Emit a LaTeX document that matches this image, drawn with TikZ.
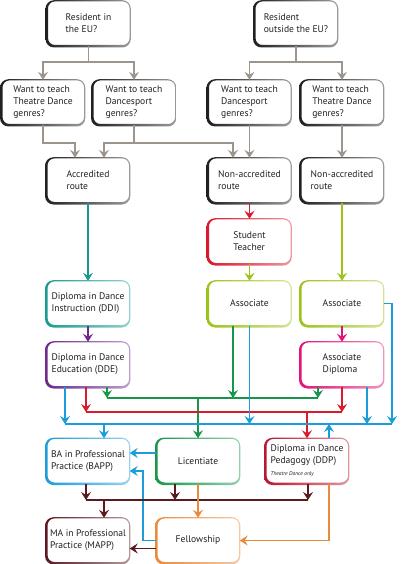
\documentclass[tikz,border=0pt]{standalone}
\usepackage{fontspec}
\setmainfont{PT Sans}
\usetikzlibrary{arrows.meta}
\definecolor{cgray}{HTML}{9C958E}
\definecolor{cblack}{HTML}{231F20}
\definecolor{cteal}{HTML}{169B8F}
\definecolor{cred}{HTML}{D71A2C}
\definecolor{cyg}{HTML}{9CC31C}
\definecolor{cpurple}{HTML}{6C2A8C}
\definecolor{cmag}{HTML}{E2127A}
\definecolor{ccyan}{HTML}{1B9DD9}
\definecolor{cgreen}{HTML}{17964A}
\definecolor{cdred}{HTML}{B8172F}
\definecolor{cmaroon}{HTML}{5B1A20}
\definecolor{corange}{HTML}{E98A3C}
\newcommand\ringbox[2]{%
  \shade[even odd rule, left color=#2, right color=#2!45, rounded corners=8.5pt]
    ([shift={(-1.3pt,-1.3pt)}]#1.south west) rectangle ([shift={(0.6pt,0.6pt)}]#1.north east)
    [rounded corners=7pt]
    ([shift={(1.2pt,1.2pt)}]#1.south west) rectangle ([shift={(-0.6pt,-0.6pt)}]#1.north east);}
\begin{document}
\begin{tikzpicture}[x=1pt,y=-1pt,
  box/.style={rounded corners=8pt, minimum width=83pt, minimum height=45pt, align=left, font=\fontsize{9.6}{12}\selectfont, inner sep=2pt, text=cblack},
  arr/.style={line width=1.2pt, -{Stealth[length=8pt,width=10pt,inset=3pt]}},
  ln/.style={line width=1.2pt}]
\useasboundingbox (0,0) rectangle (400,564);
\node[box] (r1) at (88.5,23.5) {Resident in\\the EU?};
\node[box] (r2) at (296,23.5) {Resident\\outside the EU?};
\node[box] (tE) at (43,102.5) {Want to teach\\Theatre Dance\\genres?};
\node[box] (dE) at (134,102.5) {Want to teach\\Dancesport\\genres?};
\node[box] (dN) at (249.5,102.5) {Want to teach\\Dancesport\\genres?};
\node[box] (tN) at (342,102.5) {Want to teach\\Theatre Dance\\genres?};
\node[box] (acc) at (88,180.5) {Accredited\\route};
\node[box] (nac1) at (249.5,180.5) {Non-accredited\\route};
\node[box] (nac2) at (342,180.5) {Non-accredited\\route};
\node[box] (st) at (249.5,241.5) {Student\\Teacher};
\node[box] (ddi) at (88,303.5) {Diploma in Dance\\Instruction (DDI)};
\node[box] (a1) at (249.5,303.5) {Associate};
\node[box] (a2) at (342,303.5) {Associate};
\node[box] (dde) at (88,364.5) {Diploma in Dance\\Education (DDE)};
\node[box] (ad) at (342,364.5) {Associate\\Diploma};
\node[box] (bapp) at (88,461) {BA in Professional\\Practice (BAPP)};
\node[box] (lic) at (198,461) {Licentiate};
\node[box] (ddp) at (307,461) {Diploma in Dance\\Pedagogy (DDP)\\{\fontsize{5.5}{8}\selectfont\itshape Theatre Dance only}};
\node[box] (ma) at (88,540.5) {MA in Professional\\Practice (MAPP)};
\node[box] (fel) at (198,540.5) {Fellowship};
% box outlines
\ringbox{r1}{cblack}
\ringbox{r2}{cblack}
\ringbox{tE}{cblack}
\ringbox{dE}{cblack}
\ringbox{dN}{cblack}
\ringbox{tN}{cblack}
\ringbox{acc}{cblack}
\ringbox{nac1}{cblack}
\ringbox{nac2}{cblack}
\ringbox{st}{cred}
\ringbox{ddi}{cteal}
\ringbox{a1}{cyg}
\ringbox{a2}{cyg}
\ringbox{dde}{cpurple}
\ringbox{ad}{cmag}
\ringbox{bapp}{ccyan}
\ringbox{lic}{cgreen}
\ringbox{ddp}{cdred}
\ringbox{ma}{cmaroon}
\ringbox{fel}{corange}
% gray
\draw[arr,cgray] (r1.south) |- (tE.north |- 0,62) -- (tE.north);
\draw[arr,cgray] (r1.south) |- (dE.north |- 0,62) -- (dE.north);
\draw[arr,cgray] (r2.south) |- (dN.north |- 0,62) -- (dN.north);
\draw[arr,cgray] (r2.south) |- (tN.north |- 0,62) -- (tN.north);
\draw[arr,cgray] (tE.south) |- (75,143) -- (acc.north -| 75,0);
\draw[arr,cgray] (dE.south) |- (104,143) -- (acc.north -| 104,0);
\draw[arr,cgray] (dE.south) |- (233,143) -- (nac1.north -| 233,0);
\draw[arr,cgray] (dN.south) -- (nac1.north);
\draw[arr,cgray] (tN.south) -- (nac2.north);
% vertical colour links
\draw[arr,cteal] (acc.south) -- (ddi.north);
\draw[arr,cred] (nac1.south) -- (st.north);
\draw[arr,cyg] (st.south) -- (a1.north);
\draw[arr,cyg] (nac2.south) -- (a2.north);
\draw[arr,cpurple] (ddi.south) -- (dde.north);
\draw[arr,cmag] (a2.south) -- (ad.north);
% bus coordinates
\coordinate (gL) at (107,398); \coordinate (gR) at (318,398);
\coordinate (rL) at (86,412); \coordinate (rR) at (342,412);
\coordinate (cL) at (65,424); \coordinate (cR) at (392,424);
\coordinate (mL) at (86,500); \coordinate (mR) at (308,500);
% green
\draw[ln,cgreen] (gL) -- (gR);
\draw[arr,cgreen] (dde.south -| gL) -- (gL);
\draw[arr,cgreen] (ad.south -| gR) -- (gR);
\draw[arr,cgreen] (a1.south -| 233,0) -- (gL -| 233,0);
\draw[arr,cgreen] (lic.north |- gL) -- (lic.north);
% red
\draw[ln,cred] (rL) -- (rR);
\draw[arr,cred] (dde.south -| rL) -- (rL);
\draw[arr,cred] (ad.south -| rR) -- (rR);
\draw[arr,cred] (ddp.north |- rL) -- (ddp.north);
% cyan
\draw[ln,ccyan] (cL) -- (cR);
\draw[arr,ccyan] (dde.south -| cL) -- (cL);
\draw[arr,ccyan] (a1.south) -- (a1.south |- cL);
\draw[arr,ccyan] (ad.south -| 367,0) -- (cL -| 367,0);
\draw[arr,ccyan] (a2.east) -| (cR);
\draw[arr,ccyan] (cL -| 104,0) -- (bapp.north -| 104,0);
\draw[arr,ccyan] (ddp.north -| 329,0) -- (cL -| 329,0);
\draw[arr,ccyan] ([yshift=8pt]lic.west) -- ([yshift=8pt]bapp.east);
\draw[arr,ccyan] (fel.west) -| (143,471) -- ([yshift=-10pt]bapp.east);
% maroon
\draw[ln,cmaroon] (mL) -- (mR);
\draw[arr,cmaroon] (bapp.south -| mL) -- (mL);
\draw[arr,cmaroon] (lic.south -| 175,0) -- (mL -| 175,0);
\draw[arr,cmaroon] (ddp.south -| mR) -- (mR);
\draw[arr,cmaroon] (mL -| 104,0) -- (ma.north -| 104,0);
\draw[arr,cmaroon] ([yshift=-8pt]fel.west) -- ([yshift=-8pt]ma.east);
% orange
\draw[arr,corange] (lic.south) -- (fel.north);
\draw[arr,corange] (ddp.south -| 329,0) |- (fel.east);
\end{tikzpicture}
\end{document}
